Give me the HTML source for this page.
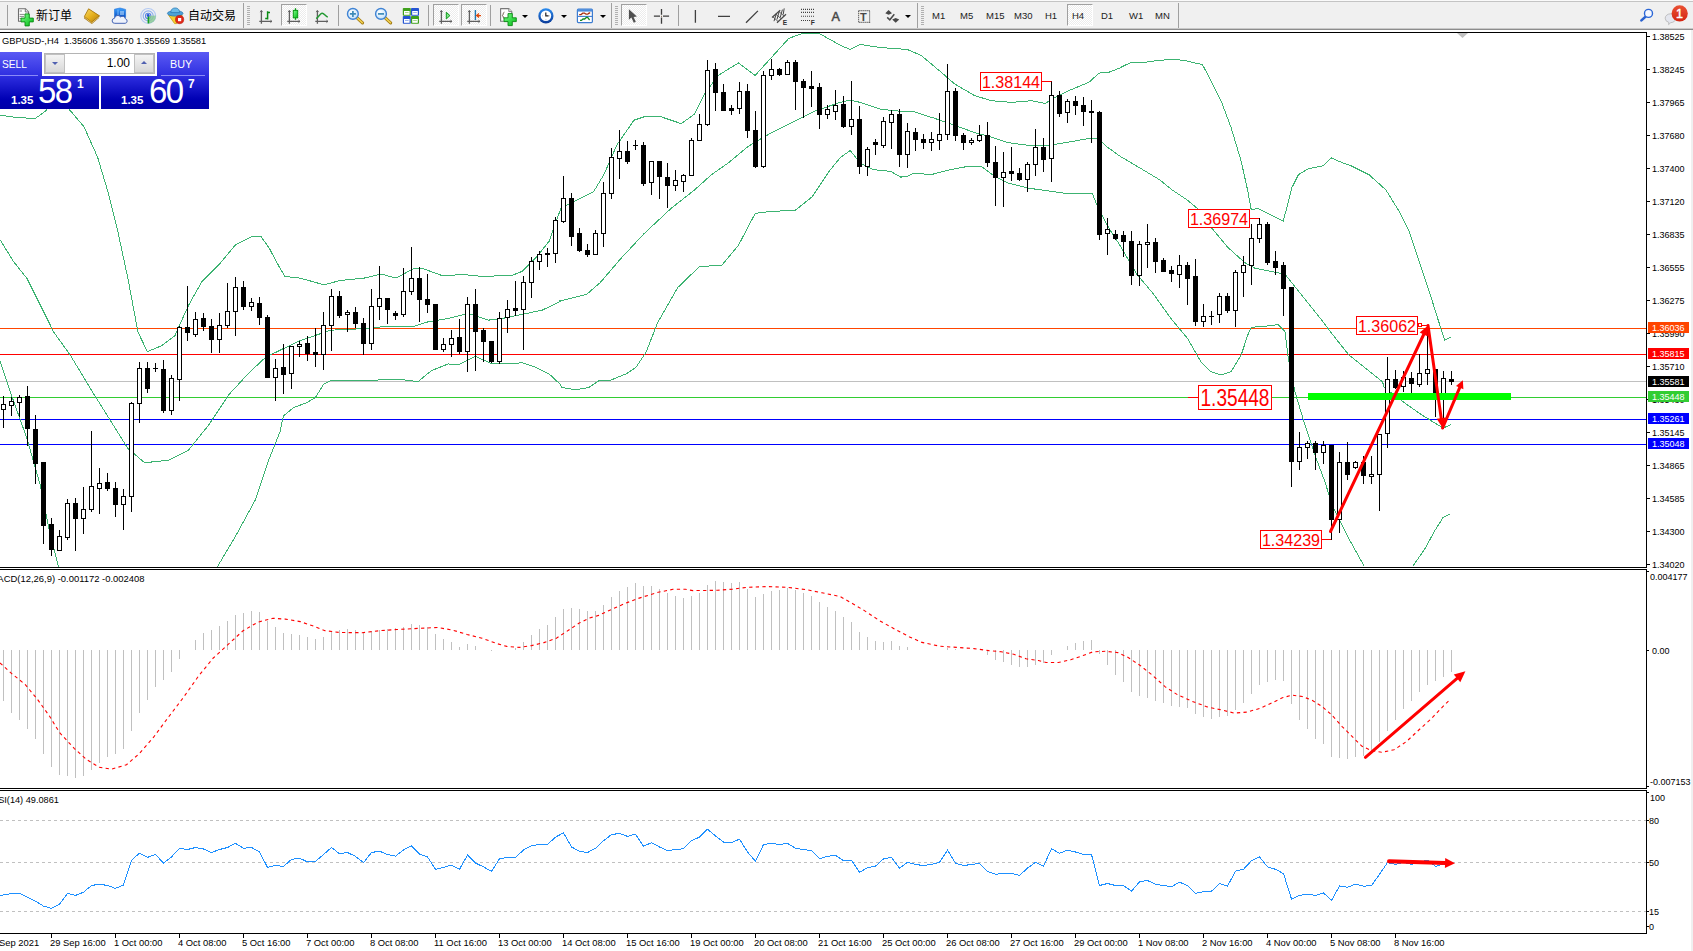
<!DOCTYPE html>
<html><head><meta charset="utf-8"><title>GBPUSD-,H4</title>
<style>
html,body{margin:0;padding:0;background:#fff;}
body{width:1693px;height:951px;overflow:hidden;position:relative;font-family:"Liberation Sans","Noto Sans CJK SC",sans-serif;}
#chart{position:absolute;left:0;top:0;}
#chart text{font-family:"Liberation Sans","Noto Sans CJK SC",sans-serif;white-space:pre;}
#tb{position:absolute;left:0;top:0;width:1693px;height:30px;background:#f0f0f0;}
#tb .l1{position:absolute;left:0;top:1px;width:100%;height:1px;background:#c4c4c4;}
#tb .l0{position:absolute;left:0;top:0;width:100%;height:1px;background:#fafafa;}
#tb .b1{position:absolute;left:0;top:28px;width:100%;height:1px;background:#c8c8c8;}
#tb .b2{position:absolute;left:0;top:29px;width:100%;height:1px;background:#8c8c8c;}
#rb{position:absolute;left:1691px;top:30px;width:2px;height:921px;background:#f0f0f0;}
.sep{position:absolute;top:5px;width:1px;height:21px;background:#a0a0a0;}
.sepL{top:3px;height:25px;}
.grip{position:absolute;top:6px;width:3px;height:19px;background:repeating-linear-gradient(#b0b0b0 0 1px,#f0f0f0 1px 2px);}
.sel{position:absolute;top:4px;height:22px;background:#f8f8f8;border:1px solid #fff;border-top-color:#a0a0a0;border-left-color:#a0a0a0;box-sizing:border-box;background-image:repeating-conic-gradient(#fff 0 25%,#ececec 0 50%);background-size:2px 2px;}
.tt{position:absolute;top:7.5px;font-size:12px;line-height:16px;color:#000;white-space:nowrap;}
.tf{position:absolute;top:10.4px;font-size:9.5px;line-height:12px;color:#222;white-space:nowrap;}
.dd{position:absolute;top:15px;width:0;height:0;border-left:3px solid transparent;border-right:3px solid transparent;border-top:3px solid #000;}
#panel{position:absolute;left:0;top:52px;width:209px;height:57px;color:#fff;}
#panel div{position:absolute;box-sizing:border-box;}
.bg1{background:linear-gradient(#5a5af4,#2e2ee0);}
.bg2{background:linear-gradient(#2e2ee0,#0000b4 70%,#0000a8);}
</style></head><body>
<svg id="chart" width="1693" height="951" viewBox="0 0 1693 951">
<defs><clipPath id="cm"><rect x="0" y="33" width="1646" height="534"/></clipPath></defs>
<rect x="0" y="328" width="1646" height="1" fill="#ff4500"/>
<rect x="0" y="354" width="1646" height="1" fill="#ff0000"/>
<rect x="0" y="381" width="1646" height="1" fill="#c0c0c0"/>
<rect x="0" y="397" width="1646" height="1" fill="#32cd32"/>
<rect x="0" y="419" width="1646" height="1" fill="#0000ff"/>
<rect x="0" y="444" width="1646" height="1" fill="#0000ff"/>
<g fill="none" stroke="#3cb371" stroke-width="1" clip-path="url(#cm)" shape-rendering="crispEdges">
<polyline points="0,115.1 16.8,117.5 35.3,118.5 45.4,111.1 50.5,105 63.9,103.4 70.7,111.1 84.1,126.9 97.6,157.2 107.7,190.9 117.8,231.3 127.9,278.4 138,332.2 147.4,351.7 161.5,345.7 175,335.6 188.5,305.3 201.9,281.7 218.8,264.9 235.6,244.7 252.4,236.3 260.8,236.3 269.2,248.1 280,268.3 285,276.4 300.2,278.1 323.8,284.8 340.6,280.4 364.1,278.1 381,274 396.1,278.1 414.6,268 421.3,268 441.5,275.4 465.1,274.7 481.9,276.4 512.2,275.4 522.3,271.3 535.8,257.9 549.2,241.1 560,210.8 560,208.4 576.8,200 593.7,191.5 603.8,174.7 617.2,144.4 634,120.2 644.1,116.8 661,116.8 681.2,123.6 694.6,114.1 704.7,93.9 718.2,75.4 738.4,63 755.2,75.4 772,56.9 788.8,38.4 802.3,33.4 819.1,33.4 840,45.1 850.1,49.5 860.2,44.5 880.4,47.5 907.3,49.5 920.8,55.2 941,72.1 954.4,83.8 974.6,95.6 991.4,100.7 1011.6,102.4 1031.8,100.7 1045.3,103.4 1055.4,97.3 1068.8,90.6 1089,82.2 1099.1,73.1 1109.2,72.1 1120,68 1120,67.7 1131.8,62 1140.2,63 1153.7,61 1170.5,59.3 1183.9,60.3 1202.5,64.7 1210.9,80.5 1221,100.7 1231.1,127.6 1241.2,161.3 1247.9,191.5 1251.3,210 1258,208.4 1268.1,213.4 1283.2,221.2 1286.6,208.4 1291.6,188.2 1298.4,174.7 1308.5,168.7 1323.6,165.6 1331.3,157.9 1338.8,161.3 1352.2,166.3 1369,174.7 1385.9,189.9 1399.3,211.7 1409.4,231.9 1419.5,262.2 1429.6,292.5 1438,319.4 1444.8,340.3 1451.5,336.9"/>
<polyline points="0,239.7 13.5,261.5 26.9,278.4 40.4,305.3 53.8,332.2 70.7,355.8 90.9,389.4 111.1,421.6 127.9,448.6 144.7,462.7 168.3,460.3 188.5,450.2 208.7,425 228.8,394.7 249,372.8 265.9,357 280,350.3 296.8,342 313.7,336 330.5,330.2 364.1,328.6 381,326.9 414.6,326.2 428.1,321.8 448.3,318.5 468.5,313.4 488.7,320.1 502.1,318.5 522.3,314.4 542.5,310 560,301.6 560,300.9 586.9,294.2 600.4,282.4 620.6,258.8 644.1,233.6 671.1,208.4 694.6,189.9 711.4,174.7 728.3,162.9 748.5,146.1 768.7,134.3 795.6,120.9 815.8,110.8 840,102.4 850.1,100 860.2,102.4 880.4,109.1 893.8,110.8 914,111.8 934.2,118.2 954.4,125.2 974.6,132.6 991.4,137 1008.3,142.7 1028.5,145.4 1048.7,145.4 1068.8,142.1 1089,138.4 1099.1,138.4 1105.9,146.1 1120,156.2 1140,168 1160,180 1172.2,190 1187.3,200.1 1197.4,208.5 1210.9,227 1227.7,247.2 1244.5,262.4 1254.6,268.1 1268.1,270.8 1284.9,274.1 1298.4,291 1318.6,316.2 1335.4,338.1 1348.8,354.9 1365.7,368.4 1382.5,381.8 1384.3,387.7 1404.5,402.8 1421.3,414.6 1434.8,423 1443.2,428.1 1450.6,424.7"/>
<polyline points="0,361.1 10.1,391.3 26.9,438.5 40.4,485.6 50.5,536.1 58.9,568"/>
<polyline points="215.4,570.1 235.6,536.1 255.8,499 269.2,458.7 280,431.7 283.4,416.1 293.5,407.6 306.9,402.6 315.3,397.6 323.8,384.1 330.5,380.7 364.1,380.7 397.8,379 418,381.7 431.4,370.6 448.3,363.9 458.4,364.9 475.2,356.2 492,363.9 522.3,362.9 535.8,367.3 549.2,374 560,384.1 561.9,387.5 575.4,389.8 588.8,387.5 598.9,380.7 610.7,380.1 625.9,374 636,367.3 646.1,352.1 657.6,322.8 677.8,287.5 699.7,266.3 721.5,265.6 738.4,245.4 755.2,213.4 768.7,211.7 795.6,210 812.4,196.6 829.2,171.3 840,157.9 850.1,150.5 860.2,162.9 873.7,169.7 890.5,171.3 900.6,177.1 907.3,176.4 914,173 930.9,174.7 947.7,170.3 964.5,167 981.3,166.3 994.8,176.4 1008.3,183.1 1028.5,188.2 1048.7,190.9 1068.8,193.9 1092.4,193.9 1099.1,210 1109.2,228.6 1120,245.4 1120,245.5 1136.8,274.1 1153.7,294.3 1170.5,317.9 1187.3,338.1 1200.8,361.6 1210.9,371.7 1221,375.1 1231.1,371.7 1241.2,354.9 1247.9,334.7 1251.3,327.3 1264.7,326.3 1278.2,324.6 1284.9,331.3 1288.3,358.3 1295,391.9 1305.1,425.6 1315.2,455.9 1325.3,482.8 1330.3,499.6 1333.8,508.8 1347.3,535.8 1364.1,566.1"/>
<polyline points="1412.9,566.1 1424.7,549.2 1434.8,530.7 1443.2,517.3 1450.6,513.9"/>
</g>
<g clip-path="url(#cm)" shape-rendering="crispEdges">
<rect x="3" y="396" width="1" height="32" fill="#000"/>
<rect x="1" y="404" width="5" height="6" fill="#000"/>
<rect x="2" y="405" width="3" height="4" fill="#fff"/>
<rect x="11" y="397" width="1" height="19" fill="#000"/>
<rect x="9" y="401" width="5" height="5" fill="#000"/>
<rect x="10" y="402" width="3" height="3" fill="#fff"/>
<rect x="19" y="395" width="1" height="22" fill="#000"/>
<rect x="17" y="397" width="5" height="6" fill="#000"/>
<rect x="18" y="398" width="3" height="4" fill="#fff"/>
<rect x="27" y="386" width="1" height="60" fill="#000"/>
<rect x="25" y="396" width="5" height="33" fill="#000"/>
<rect x="35" y="415" width="1" height="69" fill="#000"/>
<rect x="33" y="429" width="5" height="35" fill="#000"/>
<rect x="43" y="462" width="1" height="82" fill="#000"/>
<rect x="41" y="462" width="5" height="64" fill="#000"/>
<rect x="51" y="518" width="1" height="38" fill="#000"/>
<rect x="49" y="524" width="5" height="26" fill="#000"/>
<rect x="59" y="530" width="1" height="21" fill="#000"/>
<rect x="57" y="536" width="5" height="15" fill="#000"/>
<rect x="58" y="537" width="3" height="13" fill="#fff"/>
<rect x="67" y="499" width="1" height="41" fill="#000"/>
<rect x="65" y="503" width="5" height="35" fill="#000"/>
<rect x="66" y="504" width="3" height="33" fill="#fff"/>
<rect x="75" y="498" width="1" height="53" fill="#000"/>
<rect x="73" y="503" width="5" height="16" fill="#000"/>
<rect x="83" y="487" width="1" height="47" fill="#000"/>
<rect x="81" y="509" width="5" height="10" fill="#000"/>
<rect x="82" y="510" width="3" height="8" fill="#fff"/>
<rect x="91" y="431" width="1" height="81" fill="#000"/>
<rect x="89" y="486" width="5" height="24" fill="#000"/>
<rect x="90" y="487" width="3" height="22" fill="#fff"/>
<rect x="99" y="468" width="1" height="46" fill="#000"/>
<rect x="97" y="483" width="5" height="6" fill="#000"/>
<rect x="98" y="484" width="3" height="4" fill="#fff"/>
<rect x="107" y="473" width="1" height="18" fill="#000"/>
<rect x="105" y="482" width="5" height="7" fill="#000"/>
<rect x="115" y="482" width="1" height="35" fill="#000"/>
<rect x="113" y="488" width="5" height="17" fill="#000"/>
<rect x="123" y="489" width="1" height="41" fill="#000"/>
<rect x="121" y="496" width="5" height="9" fill="#000"/>
<rect x="122" y="497" width="3" height="7" fill="#fff"/>
<rect x="131" y="402" width="1" height="110" fill="#000"/>
<rect x="129" y="403" width="5" height="94" fill="#000"/>
<rect x="130" y="404" width="3" height="92" fill="#fff"/>
<rect x="139" y="362" width="1" height="61" fill="#000"/>
<rect x="137" y="368" width="5" height="36" fill="#000"/>
<rect x="138" y="369" width="3" height="34" fill="#fff"/>
<rect x="147" y="362" width="1" height="31" fill="#000"/>
<rect x="145" y="368" width="5" height="21" fill="#000"/>
<rect x="155" y="363" width="1" height="9" fill="#000"/>
<rect x="153" y="368" width="5" height="1" fill="#000"/>
<rect x="163" y="360" width="1" height="53" fill="#000"/>
<rect x="161" y="369" width="5" height="42" fill="#000"/>
<rect x="171" y="375" width="1" height="40" fill="#000"/>
<rect x="169" y="378" width="5" height="33" fill="#000"/>
<rect x="170" y="379" width="3" height="31" fill="#fff"/>
<rect x="179" y="326" width="1" height="75" fill="#000"/>
<rect x="177" y="327" width="5" height="53" fill="#000"/>
<rect x="178" y="328" width="3" height="51" fill="#fff"/>
<rect x="187" y="286" width="1" height="55" fill="#000"/>
<rect x="185" y="327" width="5" height="6" fill="#000"/>
<rect x="195" y="312" width="1" height="25" fill="#000"/>
<rect x="193" y="319" width="5" height="16" fill="#000"/>
<rect x="194" y="320" width="3" height="14" fill="#fff"/>
<rect x="203" y="313" width="1" height="18" fill="#000"/>
<rect x="201" y="318" width="5" height="9" fill="#000"/>
<rect x="211" y="319" width="1" height="34" fill="#000"/>
<rect x="209" y="326" width="5" height="14" fill="#000"/>
<rect x="219" y="313" width="1" height="40" fill="#000"/>
<rect x="217" y="325" width="5" height="15" fill="#000"/>
<rect x="218" y="326" width="3" height="13" fill="#fff"/>
<rect x="227" y="283" width="1" height="45" fill="#000"/>
<rect x="225" y="311" width="5" height="15" fill="#000"/>
<rect x="226" y="312" width="3" height="13" fill="#fff"/>
<rect x="235" y="277" width="1" height="59" fill="#000"/>
<rect x="233" y="287" width="5" height="25" fill="#000"/>
<rect x="234" y="288" width="3" height="23" fill="#fff"/>
<rect x="243" y="281" width="1" height="29" fill="#000"/>
<rect x="241" y="287" width="5" height="20" fill="#000"/>
<rect x="251" y="298" width="1" height="13" fill="#000"/>
<rect x="249" y="302" width="5" height="5" fill="#000"/>
<rect x="250" y="303" width="3" height="3" fill="#fff"/>
<rect x="259" y="297" width="1" height="28" fill="#000"/>
<rect x="257" y="303" width="5" height="15" fill="#000"/>
<rect x="267" y="315" width="1" height="63" fill="#000"/>
<rect x="265" y="317" width="5" height="61" fill="#000"/>
<rect x="275" y="359" width="1" height="42" fill="#000"/>
<rect x="273" y="368" width="5" height="10" fill="#000"/>
<rect x="274" y="369" width="3" height="8" fill="#fff"/>
<rect x="283" y="344" width="1" height="50" fill="#000"/>
<rect x="281" y="367" width="5" height="8" fill="#000"/>
<rect x="291" y="346" width="1" height="43" fill="#000"/>
<rect x="289" y="346" width="5" height="28" fill="#000"/>
<rect x="290" y="347" width="3" height="26" fill="#fff"/>
<rect x="299" y="341" width="1" height="16" fill="#000"/>
<rect x="297" y="344" width="5" height="3" fill="#000"/>
<rect x="298" y="345" width="3" height="1" fill="#fff"/>
<rect x="307" y="336" width="1" height="25" fill="#000"/>
<rect x="305" y="343" width="5" height="11" fill="#000"/>
<rect x="315" y="328" width="1" height="39" fill="#000"/>
<rect x="313" y="352" width="5" height="3" fill="#000"/>
<rect x="323" y="312" width="1" height="58" fill="#000"/>
<rect x="321" y="325" width="5" height="30" fill="#000"/>
<rect x="322" y="326" width="3" height="28" fill="#fff"/>
<rect x="331" y="289" width="1" height="62" fill="#000"/>
<rect x="329" y="296" width="5" height="30" fill="#000"/>
<rect x="330" y="297" width="3" height="28" fill="#fff"/>
<rect x="339" y="291" width="1" height="27" fill="#000"/>
<rect x="337" y="296" width="5" height="20" fill="#000"/>
<rect x="347" y="310" width="1" height="22" fill="#000"/>
<rect x="345" y="312" width="5" height="3" fill="#000"/>
<rect x="346" y="313" width="3" height="1" fill="#fff"/>
<rect x="355" y="307" width="1" height="21" fill="#000"/>
<rect x="353" y="312" width="5" height="12" fill="#000"/>
<rect x="363" y="318" width="1" height="37" fill="#000"/>
<rect x="361" y="323" width="5" height="21" fill="#000"/>
<rect x="371" y="289" width="1" height="61" fill="#000"/>
<rect x="369" y="306" width="5" height="38" fill="#000"/>
<rect x="370" y="307" width="3" height="36" fill="#fff"/>
<rect x="379" y="266" width="1" height="54" fill="#000"/>
<rect x="377" y="298" width="5" height="9" fill="#000"/>
<rect x="378" y="299" width="3" height="7" fill="#fff"/>
<rect x="387" y="298" width="1" height="26" fill="#000"/>
<rect x="385" y="298" width="5" height="12" fill="#000"/>
<rect x="395" y="311" width="1" height="9" fill="#000"/>
<rect x="393" y="313" width="5" height="3" fill="#000"/>
<rect x="403" y="268" width="1" height="49" fill="#000"/>
<rect x="401" y="291" width="5" height="24" fill="#000"/>
<rect x="402" y="292" width="3" height="22" fill="#fff"/>
<rect x="411" y="247" width="1" height="48" fill="#000"/>
<rect x="409" y="278" width="5" height="14" fill="#000"/>
<rect x="410" y="279" width="3" height="12" fill="#fff"/>
<rect x="419" y="267" width="1" height="55" fill="#000"/>
<rect x="417" y="278" width="5" height="22" fill="#000"/>
<rect x="427" y="274" width="1" height="39" fill="#000"/>
<rect x="425" y="299" width="5" height="6" fill="#000"/>
<rect x="435" y="304" width="1" height="46" fill="#000"/>
<rect x="433" y="304" width="5" height="46" fill="#000"/>
<rect x="443" y="338" width="1" height="14" fill="#000"/>
<rect x="441" y="344" width="5" height="6" fill="#000"/>
<rect x="442" y="345" width="3" height="4" fill="#fff"/>
<rect x="451" y="330" width="1" height="27" fill="#000"/>
<rect x="449" y="338" width="5" height="7" fill="#000"/>
<rect x="450" y="339" width="3" height="5" fill="#fff"/>
<rect x="459" y="319" width="1" height="35" fill="#000"/>
<rect x="457" y="337" width="5" height="15" fill="#000"/>
<rect x="467" y="297" width="1" height="75" fill="#000"/>
<rect x="465" y="304" width="5" height="48" fill="#000"/>
<rect x="466" y="305" width="3" height="46" fill="#fff"/>
<rect x="475" y="289" width="1" height="82" fill="#000"/>
<rect x="473" y="304" width="5" height="28" fill="#000"/>
<rect x="483" y="328" width="1" height="34" fill="#000"/>
<rect x="481" y="330" width="5" height="12" fill="#000"/>
<rect x="491" y="341" width="1" height="22" fill="#000"/>
<rect x="489" y="341" width="5" height="21" fill="#000"/>
<rect x="499" y="312" width="1" height="52" fill="#000"/>
<rect x="497" y="318" width="5" height="44" fill="#000"/>
<rect x="498" y="319" width="3" height="42" fill="#fff"/>
<rect x="507" y="300" width="1" height="33" fill="#000"/>
<rect x="505" y="309" width="5" height="9" fill="#000"/>
<rect x="506" y="310" width="3" height="7" fill="#fff"/>
<rect x="515" y="281" width="1" height="35" fill="#000"/>
<rect x="513" y="308" width="5" height="3" fill="#000"/>
<rect x="523" y="276" width="1" height="74" fill="#000"/>
<rect x="521" y="282" width="5" height="28" fill="#000"/>
<rect x="522" y="283" width="3" height="26" fill="#fff"/>
<rect x="531" y="257" width="1" height="41" fill="#000"/>
<rect x="529" y="261" width="5" height="22" fill="#000"/>
<rect x="530" y="262" width="3" height="20" fill="#fff"/>
<rect x="539" y="251" width="1" height="19" fill="#000"/>
<rect x="537" y="254" width="5" height="8" fill="#000"/>
<rect x="538" y="255" width="3" height="6" fill="#fff"/>
<rect x="547" y="248" width="1" height="19" fill="#000"/>
<rect x="545" y="253" width="5" height="2" fill="#000"/>
<rect x="555" y="217" width="1" height="46" fill="#000"/>
<rect x="553" y="220" width="5" height="34" fill="#000"/>
<rect x="554" y="221" width="3" height="32" fill="#fff"/>
<rect x="563" y="176" width="1" height="47" fill="#000"/>
<rect x="561" y="198" width="5" height="24" fill="#000"/>
<rect x="562" y="199" width="3" height="22" fill="#fff"/>
<rect x="571" y="193" width="1" height="53" fill="#000"/>
<rect x="569" y="198" width="5" height="39" fill="#000"/>
<rect x="579" y="228" width="1" height="24" fill="#000"/>
<rect x="577" y="233" width="5" height="18" fill="#000"/>
<rect x="587" y="244" width="1" height="13" fill="#000"/>
<rect x="585" y="250" width="5" height="5" fill="#000"/>
<rect x="595" y="230" width="1" height="25" fill="#000"/>
<rect x="593" y="233" width="5" height="22" fill="#000"/>
<rect x="594" y="234" width="3" height="20" fill="#fff"/>
<rect x="603" y="182" width="1" height="65" fill="#000"/>
<rect x="601" y="193" width="5" height="41" fill="#000"/>
<rect x="602" y="194" width="3" height="39" fill="#fff"/>
<rect x="611" y="148" width="1" height="51" fill="#000"/>
<rect x="609" y="157" width="5" height="37" fill="#000"/>
<rect x="610" y="158" width="3" height="35" fill="#fff"/>
<rect x="619" y="130" width="1" height="49" fill="#000"/>
<rect x="617" y="151" width="5" height="8" fill="#000"/>
<rect x="618" y="152" width="3" height="6" fill="#fff"/>
<rect x="627" y="141" width="1" height="23" fill="#000"/>
<rect x="625" y="151" width="5" height="11" fill="#000"/>
<rect x="635" y="140" width="1" height="10" fill="#000"/>
<rect x="633" y="145" width="5" height="1" fill="#000"/>
<rect x="643" y="142" width="1" height="44" fill="#000"/>
<rect x="641" y="145" width="5" height="39" fill="#000"/>
<rect x="651" y="161" width="1" height="34" fill="#000"/>
<rect x="649" y="161" width="5" height="22" fill="#000"/>
<rect x="650" y="162" width="3" height="20" fill="#fff"/>
<rect x="659" y="161" width="1" height="38" fill="#000"/>
<rect x="657" y="161" width="5" height="16" fill="#000"/>
<rect x="667" y="163" width="1" height="45" fill="#000"/>
<rect x="665" y="177" width="5" height="9" fill="#000"/>
<rect x="675" y="170" width="1" height="21" fill="#000"/>
<rect x="673" y="180" width="5" height="6" fill="#000"/>
<rect x="674" y="181" width="3" height="4" fill="#fff"/>
<rect x="683" y="174" width="1" height="18" fill="#000"/>
<rect x="681" y="175" width="5" height="7" fill="#000"/>
<rect x="682" y="176" width="3" height="5" fill="#fff"/>
<rect x="691" y="138" width="1" height="38" fill="#000"/>
<rect x="689" y="140" width="5" height="36" fill="#000"/>
<rect x="690" y="141" width="3" height="34" fill="#fff"/>
<rect x="699" y="114" width="1" height="27" fill="#000"/>
<rect x="697" y="124" width="5" height="17" fill="#000"/>
<rect x="698" y="125" width="3" height="15" fill="#fff"/>
<rect x="707" y="60" width="1" height="66" fill="#000"/>
<rect x="705" y="70" width="5" height="55" fill="#000"/>
<rect x="706" y="71" width="3" height="53" fill="#fff"/>
<rect x="715" y="63" width="1" height="48" fill="#000"/>
<rect x="713" y="69" width="5" height="24" fill="#000"/>
<rect x="723" y="84" width="1" height="27" fill="#000"/>
<rect x="721" y="92" width="5" height="19" fill="#000"/>
<rect x="731" y="105" width="1" height="10" fill="#000"/>
<rect x="729" y="108" width="5" height="3" fill="#000"/>
<rect x="739" y="82" width="1" height="32" fill="#000"/>
<rect x="737" y="91" width="5" height="18" fill="#000"/>
<rect x="738" y="92" width="3" height="16" fill="#fff"/>
<rect x="747" y="84" width="1" height="54" fill="#000"/>
<rect x="745" y="91" width="5" height="40" fill="#000"/>
<rect x="755" y="111" width="1" height="57" fill="#000"/>
<rect x="753" y="130" width="5" height="37" fill="#000"/>
<rect x="763" y="71" width="1" height="97" fill="#000"/>
<rect x="761" y="75" width="5" height="92" fill="#000"/>
<rect x="762" y="76" width="3" height="90" fill="#fff"/>
<rect x="771" y="59" width="1" height="21" fill="#000"/>
<rect x="769" y="69" width="5" height="7" fill="#000"/>
<rect x="770" y="70" width="3" height="5" fill="#fff"/>
<rect x="779" y="68" width="1" height="8" fill="#000"/>
<rect x="777" y="69" width="5" height="6" fill="#000"/>
<rect x="787" y="60" width="1" height="15" fill="#000"/>
<rect x="785" y="62" width="5" height="13" fill="#000"/>
<rect x="786" y="63" width="3" height="11" fill="#fff"/>
<rect x="795" y="60" width="1" height="50" fill="#000"/>
<rect x="793" y="62" width="5" height="20" fill="#000"/>
<rect x="803" y="79" width="1" height="39" fill="#000"/>
<rect x="801" y="81" width="5" height="7" fill="#000"/>
<rect x="811" y="71" width="1" height="36" fill="#000"/>
<rect x="809" y="86" width="5" height="3" fill="#000"/>
<rect x="819" y="83" width="1" height="46" fill="#000"/>
<rect x="817" y="87" width="5" height="28" fill="#000"/>
<rect x="827" y="105" width="1" height="14" fill="#000"/>
<rect x="825" y="109" width="5" height="6" fill="#000"/>
<rect x="826" y="110" width="3" height="4" fill="#fff"/>
<rect x="835" y="90" width="1" height="30" fill="#000"/>
<rect x="833" y="105" width="5" height="7" fill="#000"/>
<rect x="834" y="106" width="3" height="5" fill="#fff"/>
<rect x="843" y="96" width="1" height="32" fill="#000"/>
<rect x="841" y="104" width="5" height="23" fill="#000"/>
<rect x="851" y="81" width="1" height="54" fill="#000"/>
<rect x="849" y="119" width="5" height="8" fill="#000"/>
<rect x="850" y="120" width="3" height="6" fill="#fff"/>
<rect x="859" y="106" width="1" height="68" fill="#000"/>
<rect x="857" y="119" width="5" height="48" fill="#000"/>
<rect x="867" y="147" width="1" height="29" fill="#000"/>
<rect x="865" y="149" width="5" height="18" fill="#000"/>
<rect x="866" y="150" width="3" height="16" fill="#fff"/>
<rect x="875" y="139" width="1" height="16" fill="#000"/>
<rect x="873" y="142" width="5" height="3" fill="#000"/>
<rect x="883" y="117" width="1" height="31" fill="#000"/>
<rect x="881" y="121" width="5" height="25" fill="#000"/>
<rect x="882" y="122" width="3" height="23" fill="#fff"/>
<rect x="891" y="110" width="1" height="39" fill="#000"/>
<rect x="889" y="114" width="5" height="9" fill="#000"/>
<rect x="890" y="115" width="3" height="7" fill="#fff"/>
<rect x="899" y="109" width="1" height="58" fill="#000"/>
<rect x="897" y="114" width="5" height="41" fill="#000"/>
<rect x="907" y="123" width="1" height="45" fill="#000"/>
<rect x="905" y="131" width="5" height="24" fill="#000"/>
<rect x="906" y="132" width="3" height="22" fill="#fff"/>
<rect x="915" y="128" width="1" height="23" fill="#000"/>
<rect x="913" y="132" width="5" height="8" fill="#000"/>
<rect x="923" y="134" width="1" height="15" fill="#000"/>
<rect x="921" y="139" width="5" height="4" fill="#000"/>
<rect x="931" y="132" width="1" height="19" fill="#000"/>
<rect x="929" y="139" width="5" height="4" fill="#000"/>
<rect x="930" y="140" width="3" height="2" fill="#fff"/>
<rect x="939" y="113" width="1" height="37" fill="#000"/>
<rect x="937" y="134" width="5" height="7" fill="#000"/>
<rect x="938" y="135" width="3" height="5" fill="#fff"/>
<rect x="947" y="64" width="1" height="76" fill="#000"/>
<rect x="945" y="91" width="5" height="44" fill="#000"/>
<rect x="946" y="92" width="3" height="42" fill="#fff"/>
<rect x="955" y="88" width="1" height="53" fill="#000"/>
<rect x="953" y="91" width="5" height="45" fill="#000"/>
<rect x="963" y="133" width="1" height="17" fill="#000"/>
<rect x="961" y="135" width="5" height="8" fill="#000"/>
<rect x="971" y="138" width="1" height="7" fill="#000"/>
<rect x="969" y="140" width="5" height="3" fill="#000"/>
<rect x="970" y="141" width="3" height="1" fill="#fff"/>
<rect x="979" y="125" width="1" height="17" fill="#000"/>
<rect x="977" y="135" width="5" height="6" fill="#000"/>
<rect x="978" y="136" width="3" height="4" fill="#fff"/>
<rect x="987" y="122" width="1" height="45" fill="#000"/>
<rect x="985" y="135" width="5" height="28" fill="#000"/>
<rect x="995" y="146" width="1" height="60" fill="#000"/>
<rect x="993" y="162" width="5" height="16" fill="#000"/>
<rect x="1003" y="152" width="1" height="55" fill="#000"/>
<rect x="1001" y="172" width="5" height="6" fill="#000"/>
<rect x="1002" y="173" width="3" height="4" fill="#fff"/>
<rect x="1011" y="147" width="1" height="34" fill="#000"/>
<rect x="1009" y="171" width="5" height="3" fill="#000"/>
<rect x="1019" y="168" width="1" height="13" fill="#000"/>
<rect x="1017" y="173" width="5" height="7" fill="#000"/>
<rect x="1027" y="162" width="1" height="30" fill="#000"/>
<rect x="1025" y="164" width="5" height="16" fill="#000"/>
<rect x="1026" y="165" width="3" height="14" fill="#fff"/>
<rect x="1035" y="129" width="1" height="47" fill="#000"/>
<rect x="1033" y="147" width="5" height="18" fill="#000"/>
<rect x="1034" y="148" width="3" height="16" fill="#fff"/>
<rect x="1043" y="138" width="1" height="34" fill="#000"/>
<rect x="1041" y="147" width="5" height="13" fill="#000"/>
<rect x="1051" y="81" width="1" height="101" fill="#000"/>
<rect x="1049" y="95" width="5" height="64" fill="#000"/>
<rect x="1050" y="96" width="3" height="62" fill="#fff"/>
<rect x="1059" y="91" width="1" height="26" fill="#000"/>
<rect x="1057" y="95" width="5" height="19" fill="#000"/>
<rect x="1067" y="99" width="1" height="24" fill="#000"/>
<rect x="1065" y="101" width="5" height="12" fill="#000"/>
<rect x="1066" y="102" width="3" height="10" fill="#fff"/>
<rect x="1075" y="96" width="1" height="19" fill="#000"/>
<rect x="1073" y="101" width="5" height="5" fill="#000"/>
<rect x="1083" y="97" width="1" height="29" fill="#000"/>
<rect x="1081" y="105" width="5" height="7" fill="#000"/>
<rect x="1091" y="100" width="1" height="43" fill="#000"/>
<rect x="1089" y="111" width="5" height="2" fill="#000"/>
<rect x="1099" y="111" width="1" height="129" fill="#000"/>
<rect x="1097" y="112" width="5" height="123" fill="#000"/>
<rect x="1107" y="218" width="1" height="37" fill="#000"/>
<rect x="1105" y="229" width="5" height="5" fill="#000"/>
<rect x="1106" y="230" width="3" height="3" fill="#fff"/>
<rect x="1115" y="230" width="1" height="10" fill="#000"/>
<rect x="1113" y="234" width="5" height="5" fill="#000"/>
<rect x="1123" y="231" width="1" height="26" fill="#000"/>
<rect x="1121" y="235" width="5" height="7" fill="#000"/>
<rect x="1131" y="231" width="1" height="54" fill="#000"/>
<rect x="1129" y="241" width="5" height="35" fill="#000"/>
<rect x="1139" y="241" width="1" height="45" fill="#000"/>
<rect x="1137" y="244" width="5" height="32" fill="#000"/>
<rect x="1138" y="245" width="3" height="30" fill="#fff"/>
<rect x="1147" y="224" width="1" height="44" fill="#000"/>
<rect x="1145" y="242" width="5" height="3" fill="#000"/>
<rect x="1146" y="243" width="3" height="1" fill="#fff"/>
<rect x="1155" y="238" width="1" height="35" fill="#000"/>
<rect x="1153" y="242" width="5" height="20" fill="#000"/>
<rect x="1163" y="258" width="1" height="14" fill="#000"/>
<rect x="1161" y="260" width="5" height="12" fill="#000"/>
<rect x="1171" y="266" width="1" height="16" fill="#000"/>
<rect x="1169" y="270" width="5" height="4" fill="#000"/>
<rect x="1179" y="255" width="1" height="33" fill="#000"/>
<rect x="1177" y="265" width="5" height="10" fill="#000"/>
<rect x="1178" y="266" width="3" height="8" fill="#fff"/>
<rect x="1187" y="262" width="1" height="43" fill="#000"/>
<rect x="1185" y="265" width="5" height="14" fill="#000"/>
<rect x="1195" y="259" width="1" height="67" fill="#000"/>
<rect x="1193" y="276" width="5" height="46" fill="#000"/>
<rect x="1203" y="304" width="1" height="23" fill="#000"/>
<rect x="1201" y="316" width="5" height="6" fill="#000"/>
<rect x="1202" y="317" width="3" height="4" fill="#fff"/>
<rect x="1211" y="311" width="1" height="14" fill="#000"/>
<rect x="1209" y="316" width="5" height="1" fill="#000"/>
<rect x="1219" y="293" width="1" height="30" fill="#000"/>
<rect x="1217" y="296" width="5" height="19" fill="#000"/>
<rect x="1218" y="297" width="3" height="17" fill="#fff"/>
<rect x="1227" y="293" width="1" height="20" fill="#000"/>
<rect x="1225" y="296" width="5" height="15" fill="#000"/>
<rect x="1235" y="270" width="1" height="57" fill="#000"/>
<rect x="1233" y="272" width="5" height="39" fill="#000"/>
<rect x="1234" y="273" width="3" height="37" fill="#fff"/>
<rect x="1243" y="256" width="1" height="41" fill="#000"/>
<rect x="1241" y="265" width="5" height="8" fill="#000"/>
<rect x="1242" y="266" width="3" height="6" fill="#fff"/>
<rect x="1251" y="224" width="1" height="61" fill="#000"/>
<rect x="1249" y="238" width="5" height="28" fill="#000"/>
<rect x="1250" y="239" width="3" height="26" fill="#fff"/>
<rect x="1259" y="220" width="1" height="23" fill="#000"/>
<rect x="1257" y="224" width="5" height="15" fill="#000"/>
<rect x="1258" y="225" width="3" height="13" fill="#fff"/>
<rect x="1267" y="222" width="1" height="43" fill="#000"/>
<rect x="1265" y="224" width="5" height="39" fill="#000"/>
<rect x="1275" y="251" width="1" height="24" fill="#000"/>
<rect x="1273" y="261" width="5" height="7" fill="#000"/>
<rect x="1283" y="262" width="1" height="54" fill="#000"/>
<rect x="1281" y="265" width="5" height="24" fill="#000"/>
<rect x="1291" y="287" width="1" height="200" fill="#000"/>
<rect x="1289" y="287" width="5" height="175" fill="#000"/>
<rect x="1299" y="432" width="1" height="38" fill="#000"/>
<rect x="1297" y="447" width="5" height="15" fill="#000"/>
<rect x="1298" y="448" width="3" height="13" fill="#fff"/>
<rect x="1307" y="441" width="1" height="18" fill="#000"/>
<rect x="1305" y="443" width="5" height="5" fill="#000"/>
<rect x="1306" y="444" width="3" height="3" fill="#fff"/>
<rect x="1315" y="441" width="1" height="29" fill="#000"/>
<rect x="1313" y="443" width="5" height="10" fill="#000"/>
<rect x="1323" y="441" width="1" height="23" fill="#000"/>
<rect x="1321" y="445" width="5" height="8" fill="#000"/>
<rect x="1322" y="446" width="3" height="6" fill="#fff"/>
<rect x="1331" y="445" width="1" height="95" fill="#000"/>
<rect x="1329" y="445" width="5" height="75" fill="#000"/>
<rect x="1339" y="452" width="1" height="81" fill="#000"/>
<rect x="1337" y="462" width="5" height="58" fill="#000"/>
<rect x="1338" y="463" width="3" height="56" fill="#fff"/>
<rect x="1347" y="442" width="1" height="38" fill="#000"/>
<rect x="1345" y="462" width="5" height="13" fill="#000"/>
<rect x="1355" y="461" width="1" height="8" fill="#000"/>
<rect x="1353" y="462" width="5" height="6" fill="#000"/>
<rect x="1354" y="463" width="3" height="4" fill="#fff"/>
<rect x="1363" y="456" width="1" height="28" fill="#000"/>
<rect x="1361" y="462" width="5" height="14" fill="#000"/>
<rect x="1371" y="456" width="1" height="28" fill="#000"/>
<rect x="1369" y="474" width="5" height="3" fill="#000"/>
<rect x="1370" y="475" width="3" height="1" fill="#fff"/>
<rect x="1379" y="434" width="1" height="77" fill="#000"/>
<rect x="1377" y="434" width="5" height="41" fill="#000"/>
<rect x="1378" y="435" width="3" height="39" fill="#fff"/>
<rect x="1387" y="357" width="1" height="91" fill="#000"/>
<rect x="1385" y="379" width="5" height="55" fill="#000"/>
<rect x="1386" y="380" width="3" height="53" fill="#fff"/>
<rect x="1395" y="370" width="1" height="19" fill="#000"/>
<rect x="1393" y="379" width="5" height="9" fill="#000"/>
<rect x="1403" y="371" width="1" height="21" fill="#000"/>
<rect x="1401" y="377" width="5" height="10" fill="#000"/>
<rect x="1402" y="378" width="3" height="8" fill="#fff"/>
<rect x="1411" y="372" width="1" height="22" fill="#000"/>
<rect x="1409" y="378" width="5" height="6" fill="#000"/>
<rect x="1419" y="354" width="1" height="33" fill="#000"/>
<rect x="1417" y="373" width="5" height="12" fill="#000"/>
<rect x="1418" y="374" width="3" height="10" fill="#fff"/>
<rect x="1427" y="330" width="1" height="55" fill="#000"/>
<rect x="1425" y="369" width="5" height="5" fill="#000"/>
<rect x="1426" y="370" width="3" height="3" fill="#fff"/>
<rect x="1435" y="369" width="1" height="48" fill="#000"/>
<rect x="1433" y="369" width="5" height="24" fill="#000"/>
<rect x="1443" y="371" width="1" height="58" fill="#000"/>
<rect x="1441" y="378" width="5" height="16" fill="#000"/>
<rect x="1442" y="379" width="3" height="14" fill="#fff"/>
<rect x="1451" y="371" width="1" height="14" fill="#000"/>
<rect x="1449" y="379" width="5" height="3" fill="#000"/>
</g>
<rect x="1308" y="393" width="203" height="7" fill="#00ff00"/>
<rect x="980.5" y="72.5" width="61" height="18" fill="#fff" stroke="#ff0000" stroke-width="1"/>
<text x="1011.0" y="86.07843137254902" font-size="16.1" fill="#ff0000" text-anchor="middle" transform="scale(1,1.02)">1.38144</text>
<path d="M1042 81.5H1051.5" stroke="#f00" fill="none"/>
<rect x="1188.5" y="209.5" width="61" height="18" fill="#fff" stroke="#ff0000" stroke-width="1"/>
<text x="1219.0" y="220.3921568627451" font-size="16.1" fill="#ff0000" text-anchor="middle" transform="scale(1,1.02)">1.36974</text>
<path d="M1250 218.5H1259.5" stroke="#f00" fill="none"/>
<rect x="1259" y="218" width="1" height="6" fill="#000"/>
<rect x="1356.5" y="316.5" width="61" height="18" fill="#fff" stroke="#ff0000" stroke-width="1"/>
<text x="1387.0" y="325.29411764705884" font-size="16.1" fill="#ff0000" text-anchor="middle" transform="scale(1,1.02)">1.36062</text>
<rect x="1418.5" y="323.5" width="3" height="3" fill="#fff" stroke="#f00"/><path d="M1422 325.5H1428" stroke="#f00"/>
<rect x="1260.5" y="530.5" width="61" height="18" fill="#fff" stroke="#ff0000" stroke-width="1"/>
<text x="1291.0" y="535.1960784313725" font-size="16.1" fill="#ff0000" text-anchor="middle" transform="scale(1,1.02)">1.34239</text>
<path d="M1322 539.5H1331" stroke="#f00" fill="none"/>
<rect x="1198.5" y="385.5" width="73" height="24" fill="#fff" stroke="#ff0000" stroke-width="1"/>
<text x="1235.0" y="335.702479338843" font-size="19.1" fill="#ff0000" text-anchor="middle" transform="scale(1,1.21)">1.35448</text>
<rect x="1188" y="397" width="10" height="1" fill="#f00"/>
<line x1="1330.5" y1="531.5" x2="1423.7" y2="334.5" stroke="#ff0000" stroke-width="3" stroke-linecap="round"/>
<polygon points="1428,325.5 1427.8,336.5 1419.7,332.6" fill="#ff0000"/>
<line x1="1428" y1="325.5" x2="1441.2" y2="418.1" stroke="#ff0000" stroke-width="3" stroke-linecap="round"/>
<polygon points="1442.6,428 1436.7,418.7 1445.6,417.5" fill="#ff0000"/>
<line x1="1442.6" y1="428" x2="1459.7" y2="387.7" stroke="#ff0000" stroke-width="3" stroke-linecap="round"/>
<polygon points="1462.8,380.3 1463.4,389.2 1456,386.1" fill="#ff0000"/>
<polygon points="1457,33 1468,33 1462.5,38" fill="#c0c0c0"/>
<g shape-rendering="crispEdges" fill="#c0c0c0">
<rect x="3" y="650" width="1" height="51"/>
<rect x="11" y="650" width="1" height="63"/>
<rect x="19" y="650" width="1" height="70"/>
<rect x="27" y="650" width="1" height="79"/>
<rect x="35" y="650" width="1" height="89"/>
<rect x="43" y="650" width="1" height="104"/>
<rect x="51" y="650" width="1" height="117"/>
<rect x="59" y="650" width="1" height="125"/>
<rect x="67" y="650" width="1" height="126"/>
<rect x="75" y="650" width="1" height="128"/>
<rect x="83" y="650" width="1" height="126"/>
<rect x="91" y="650" width="1" height="120"/>
<rect x="99" y="650" width="1" height="113"/>
<rect x="107" y="650" width="1" height="107"/>
<rect x="115" y="650" width="1" height="104"/>
<rect x="123" y="650" width="1" height="99"/>
<rect x="131" y="650" width="1" height="81"/>
<rect x="139" y="650" width="1" height="63"/>
<rect x="147" y="650" width="1" height="50"/>
<rect x="155" y="650" width="1" height="37"/>
<rect x="163" y="650" width="1" height="30"/>
<rect x="171" y="650" width="1" height="22"/>
<rect x="179" y="650" width="1" height="9"/>
<rect x="195" y="640" width="1" height="10"/>
<rect x="203" y="633" width="1" height="17"/>
<rect x="211" y="630" width="1" height="20"/>
<rect x="219" y="626" width="1" height="24"/>
<rect x="227" y="621" width="1" height="29"/>
<rect x="235" y="615" width="1" height="35"/>
<rect x="243" y="613" width="1" height="37"/>
<rect x="251" y="611" width="1" height="39"/>
<rect x="259" y="612" width="1" height="38"/>
<rect x="267" y="621" width="1" height="29"/>
<rect x="275" y="627" width="1" height="23"/>
<rect x="283" y="633" width="1" height="17"/>
<rect x="291" y="634" width="1" height="16"/>
<rect x="299" y="635" width="1" height="15"/>
<rect x="307" y="637" width="1" height="13"/>
<rect x="315" y="639" width="1" height="11"/>
<rect x="323" y="637" width="1" height="13"/>
<rect x="331" y="632" width="1" height="18"/>
<rect x="339" y="630" width="1" height="20"/>
<rect x="347" y="629" width="1" height="21"/>
<rect x="355" y="630" width="1" height="20"/>
<rect x="363" y="632" width="1" height="18"/>
<rect x="371" y="631" width="1" height="19"/>
<rect x="379" y="630" width="1" height="20"/>
<rect x="387" y="629" width="1" height="21"/>
<rect x="395" y="628" width="1" height="22"/>
<rect x="403" y="627" width="1" height="23"/>
<rect x="411" y="624" width="1" height="26"/>
<rect x="419" y="625" width="1" height="25"/>
<rect x="427" y="627" width="1" height="23"/>
<rect x="435" y="634" width="1" height="16"/>
<rect x="443" y="639" width="1" height="11"/>
<rect x="451" y="642" width="1" height="8"/>
<rect x="459" y="647" width="1" height="3"/>
<rect x="467" y="644" width="1" height="6"/>
<rect x="475" y="646" width="1" height="4"/>
<rect x="491" y="650" width="1" height="1"/>
<rect x="515" y="648" width="1" height="2"/>
<rect x="523" y="642" width="1" height="8"/>
<rect x="531" y="635" width="1" height="15"/>
<rect x="539" y="629" width="1" height="21"/>
<rect x="547" y="625" width="1" height="25"/>
<rect x="555" y="617" width="1" height="33"/>
<rect x="563" y="609" width="1" height="41"/>
<rect x="571" y="608" width="1" height="42"/>
<rect x="579" y="609" width="1" height="41"/>
<rect x="587" y="611" width="1" height="39"/>
<rect x="595" y="611" width="1" height="39"/>
<rect x="603" y="605" width="1" height="45"/>
<rect x="611" y="597" width="1" height="53"/>
<rect x="619" y="591" width="1" height="59"/>
<rect x="627" y="587" width="1" height="63"/>
<rect x="635" y="583" width="1" height="67"/>
<rect x="643" y="586" width="1" height="64"/>
<rect x="651" y="586" width="1" height="64"/>
<rect x="659" y="589" width="1" height="61"/>
<rect x="667" y="593" width="1" height="57"/>
<rect x="675" y="596" width="1" height="54"/>
<rect x="683" y="598" width="1" height="52"/>
<rect x="691" y="596" width="1" height="54"/>
<rect x="699" y="593" width="1" height="57"/>
<rect x="707" y="585" width="1" height="65"/>
<rect x="715" y="581" width="1" height="69"/>
<rect x="723" y="582" width="1" height="68"/>
<rect x="731" y="583" width="1" height="67"/>
<rect x="739" y="582" width="1" height="68"/>
<rect x="747" y="589" width="1" height="61"/>
<rect x="755" y="597" width="1" height="53"/>
<rect x="763" y="594" width="1" height="56"/>
<rect x="771" y="591" width="1" height="59"/>
<rect x="779" y="590" width="1" height="60"/>
<rect x="787" y="588" width="1" height="62"/>
<rect x="795" y="590" width="1" height="60"/>
<rect x="803" y="593" width="1" height="57"/>
<rect x="811" y="596" width="1" height="54"/>
<rect x="819" y="602" width="1" height="48"/>
<rect x="827" y="607" width="1" height="43"/>
<rect x="835" y="611" width="1" height="39"/>
<rect x="843" y="617" width="1" height="33"/>
<rect x="851" y="622" width="1" height="28"/>
<rect x="859" y="632" width="1" height="18"/>
<rect x="867" y="637" width="1" height="13"/>
<rect x="875" y="641" width="1" height="9"/>
<rect x="883" y="642" width="1" height="8"/>
<rect x="891" y="641" width="1" height="9"/>
<rect x="899" y="646" width="1" height="4"/>
<rect x="907" y="647" width="1" height="3"/>
<rect x="947" y="648" width="1" height="2"/>
<rect x="955" y="649" width="1" height="1"/>
<rect x="987" y="650" width="1" height="5"/>
<rect x="995" y="650" width="1" height="10"/>
<rect x="1003" y="650" width="1" height="12"/>
<rect x="1011" y="650" width="1" height="15"/>
<rect x="1019" y="650" width="1" height="17"/>
<rect x="1027" y="650" width="1" height="17"/>
<rect x="1035" y="650" width="1" height="15"/>
<rect x="1043" y="650" width="1" height="13"/>
<rect x="1051" y="650" width="1" height="5"/>
<rect x="1067" y="646" width="1" height="4"/>
<rect x="1075" y="643" width="1" height="7"/>
<rect x="1083" y="641" width="1" height="9"/>
<rect x="1091" y="640" width="1" height="10"/>
<rect x="1099" y="650" width="1" height="4"/>
<rect x="1107" y="650" width="1" height="15"/>
<rect x="1115" y="650" width="1" height="25"/>
<rect x="1123" y="650" width="1" height="32"/>
<rect x="1131" y="650" width="1" height="42"/>
<rect x="1139" y="650" width="1" height="46"/>
<rect x="1147" y="650" width="1" height="48"/>
<rect x="1155" y="650" width="1" height="51"/>
<rect x="1163" y="650" width="1" height="53"/>
<rect x="1171" y="650" width="1" height="56"/>
<rect x="1179" y="650" width="1" height="57"/>
<rect x="1187" y="650" width="1" height="58"/>
<rect x="1195" y="650" width="1" height="64"/>
<rect x="1203" y="650" width="1" height="67"/>
<rect x="1211" y="650" width="1" height="69"/>
<rect x="1219" y="650" width="1" height="67"/>
<rect x="1227" y="650" width="1" height="66"/>
<rect x="1235" y="650" width="1" height="60"/>
<rect x="1243" y="650" width="1" height="53"/>
<rect x="1251" y="650" width="1" height="44"/>
<rect x="1259" y="650" width="1" height="35"/>
<rect x="1267" y="650" width="1" height="32"/>
<rect x="1275" y="650" width="1" height="30"/>
<rect x="1283" y="650" width="1" height="31"/>
<rect x="1291" y="650" width="1" height="54"/>
<rect x="1299" y="650" width="1" height="70"/>
<rect x="1307" y="650" width="1" height="79"/>
<rect x="1315" y="650" width="1" height="89"/>
<rect x="1323" y="650" width="1" height="94"/>
<rect x="1331" y="650" width="1" height="107"/>
<rect x="1339" y="650" width="1" height="108"/>
<rect x="1347" y="650" width="1" height="109"/>
<rect x="1355" y="650" width="1" height="107"/>
<rect x="1363" y="650" width="1" height="106"/>
<rect x="1371" y="650" width="1" height="101"/>
<rect x="1379" y="650" width="1" height="92"/>
<rect x="1387" y="650" width="1" height="81"/>
<rect x="1395" y="650" width="1" height="70"/>
<rect x="1403" y="650" width="1" height="59"/>
<rect x="1411" y="650" width="1" height="51"/>
<rect x="1419" y="650" width="1" height="42"/>
<rect x="1427" y="650" width="1" height="35"/>
<rect x="1435" y="650" width="1" height="31"/>
<rect x="1443" y="650" width="1" height="27"/>
<rect x="1451" y="650" width="1" height="22"/>
</g>
<polyline points="0,663 12.4,674.2 24.8,684.1 37.2,699 49.6,716.3 59.5,732.5 74.4,748.6 86.8,759.7 99.2,767.2 111.6,769.2 126.5,764.7 138.9,754 153.8,736.9 168.7,716.8 183.6,697.2 198.5,676.1 213.3,658 228.2,644.4 243.1,630.7 258,622.1 272.9,618.3 285.3,619.1 300.2,621.6 312.6,625.8 325,630.7 339.9,632.5 362.2,632.7 379.6,630.7 396.9,629.5 420,628.3 437.4,627.5 452.3,630 467.1,634.5 482,638.2 496.9,643.6 506.8,646.4 519.2,647.4 531.6,645.6 544,642.6 556.4,638.2 568.8,630 578.8,623.3 588.7,618.3 598.6,615.4 611,609.7 623.4,604.2 635.8,599.2 648.2,595.3 658.2,592.3 673,589.3 685.4,589.3 692.9,590.6 717.7,590.3 732.6,589.1 747.5,587.3 767.3,586.6 787.2,587.3 807,589.8 821.9,592.8 840,596.5 852.4,603.5 864.8,610.9 879.7,620.8 894.6,629 909.5,636.9 921.9,642.4 939.2,646.1 956.6,647.4 974,648.6 988.8,650.6 1001.3,651.8 1013.7,654.3 1026.1,658.8 1038.5,660.5 1045.9,662.5 1058.3,662.5 1070.7,659.8 1083.1,655.5 1093,651.8 1105.4,651.3 1117.8,652.6 1127.8,657.3 1140.2,665.5 1152.6,675.4 1165,686.6 1177.4,694.7 1192.3,701.4 1207.2,706.9 1222,710.1 1234.4,713.1 1246.8,712.1 1260,708.4 1272.4,702.7 1282.3,697.7 1292.3,695.2 1302.2,696.5 1312.1,700.2 1322,706.4 1331.9,715.1 1341.9,726.3 1351.8,736.2 1361.7,746.1 1371.6,750.6 1381.6,752.3 1394,749.8 1406.4,741.6 1418.8,730 1431.2,718.8 1441.1,708.4 1449.8,699.7" fill="none" stroke="#ff0000" stroke-width="1.1" stroke-dasharray="3.3 3.3"/>
<line x1="0" y1="820.5" x2="1646" y2="820.5" stroke="#c0c0c0" stroke-width="1" stroke-dasharray="3 3" shape-rendering="crispEdges"/>
<line x1="0" y1="862.5" x2="1646" y2="862.5" stroke="#c0c0c0" stroke-width="1" stroke-dasharray="3 3" shape-rendering="crispEdges"/>
<line x1="0" y1="911.5" x2="1646" y2="911.5" stroke="#c0c0c0" stroke-width="1" stroke-dasharray="3 3" shape-rendering="crispEdges"/>
<polyline points="0,895.4 3.5,894.9 11.5,893.7 19.5,893.4 27.5,897.1 35.5,901.1 43.5,906.1 51.5,908.3 59.5,904.1 67.5,893.4 75.5,895.4 83.5,892.2 91.5,885.5 99.5,884.2 107.5,885.5 115.5,888.4 123.5,885 131.5,860.2 139.5,853.2 147.5,857.4 155.5,854.5 163.5,863.1 171.5,856.9 179.5,848.3 187.5,849.5 195.5,847.5 203.5,849 211.5,852.5 219.5,849.5 227.5,847.5 235.5,843.3 243.5,848.3 251.5,847.5 259.5,852 267.5,867.4 275.5,865.4 283.5,866.4 291.5,859.4 299.5,858.2 307.5,861.9 315.5,861.4 323.5,854.5 331.5,847.5 339.5,853.7 347.5,852.5 355.5,856.4 363.5,862.6 371.5,852.5 379.5,851.2 387.5,854.5 395.5,856.2 403.5,850 411.5,845.8 419.5,854 427.5,856.9 435.5,869.3 443.5,867.4 451.5,865.1 459.5,869.3 467.5,855.2 475.5,863.1 483.5,866.9 491.5,871.3 499.5,858.9 507.5,857.4 515.5,857.4 523.5,850 531.5,845.8 539.5,844.5 547.5,844.5 555.5,837.1 563.5,832.9 571.5,847 579.5,851.2 587.5,852.5 595.5,848.3 603.5,840.8 611.5,834.6 619.5,833.4 627.5,836.4 635.5,834.1 643.5,846.3 651.5,842.6 659.5,847 667.5,850.7 675.5,849.5 683.5,848.8 691.5,840.8 699.5,837.1 707.5,829.2 715.5,835.9 723.5,842.1 731.5,842.6 739.5,839.1 747.5,852 755.5,861.4 763.5,844.5 771.5,843.3 779.5,844.5 787.5,843.3 795.5,848.3 803.5,849.5 811.5,850.7 819.5,858.7 827.5,856.4 835.5,855.2 843.5,860.7 851.5,860.2 859.5,872.3 867.5,867.6 875.5,866.1 883.5,858.9 891.5,857.4 899.5,868.1 907.5,862.4 915.5,864.4 923.5,865.6 931.5,864.4 939.5,862.4 947.5,850.2 955.5,863.1 963.5,865.6 971.5,864.4 979.5,863.6 987.5,871.3 995.5,874.3 1003.5,873.3 1011.5,873.3 1019.5,875.5 1027.5,868.1 1035.5,862.4 1043.5,866.1 1051.5,848.8 1059.5,853.2 1067.5,850.2 1075.5,852 1083.5,854.5 1091.5,854.5 1099.5,885.5 1107.5,883.5 1115.5,885.5 1123.5,885.5 1131.5,891.2 1139.5,881.8 1147.5,880.5 1155.5,884.2 1163.5,885.5 1171.5,886.7 1179.5,882.2 1187.5,885.5 1195.5,893.4 1203.5,891.7 1211.5,891.2 1219.5,883.5 1227.5,886.2 1235.5,871.1 1243.5,869.3 1251.5,860.7 1259.5,856.9 1267.5,866.9 1275.5,869.3 1283.5,873.6 1291.5,899.1 1299.5,895.4 1307.5,894.2 1315.5,895.4 1323.5,892.9 1331.5,900.4 1339.5,886 1347.5,887.2 1355.5,884.2 1363.5,886.2 1371.5,885.5 1379.5,874.3 1387.5,862.6 1395.5,864.4 1403.5,862.4 1411.5,864.4 1419.5,861.9 1427.5,860.2 1435.5,866.4 1443.5,863.9 1451.5,863.9" fill="none" stroke="#1e90ff" stroke-width="1" shape-rendering="crispEdges"/>
<line x1="1365.4" y1="757.3" x2="1457.1" y2="678.4" stroke="#ff0000" stroke-width="3" stroke-linecap="round"/>
<polygon points="1465.4,671.2 1460.3,682.2 1453.8,674.6" fill="#ff0000"/>
<line x1="1389" y1="861.2" x2="1445" y2="862.9" stroke="#ff0000" stroke-width="4" stroke-linecap="round"/>
<polygon points="1455,863.2 1444.9,867.9 1445.2,857.9" fill="#ff0000"/>
<g fill="#000" shape-rendering="crispEdges">
<rect x="0" y="32" width="1647" height="1"/>
<rect x="1646" y="32" width="1" height="536"/>
<rect x="0" y="567" width="1647" height="1"/>
<rect x="0" y="569" width="1647" height="1"/>
<rect x="1646" y="569" width="1" height="220"/>
<rect x="0" y="788" width="1647" height="1"/>
<rect x="0" y="790" width="1647" height="1"/>
<rect x="1646" y="790" width="1" height="144"/>
<rect x="0" y="933" width="1647" height="1"/>
<rect x="1647" y="36" width="3" height="1"/>
<rect x="1647" y="69" width="3" height="1"/>
<rect x="1647" y="102" width="3" height="1"/>
<rect x="1647" y="135" width="3" height="1"/>
<rect x="1647" y="168" width="3" height="1"/>
<rect x="1647" y="201" width="3" height="1"/>
<rect x="1647" y="234" width="3" height="1"/>
<rect x="1647" y="267" width="3" height="1"/>
<rect x="1647" y="300" width="3" height="1"/>
<rect x="1647" y="333" width="3" height="1"/>
<rect x="1647" y="366" width="3" height="1"/>
<rect x="1647" y="399" width="3" height="1"/>
<rect x="1647" y="432" width="3" height="1"/>
<rect x="1647" y="465" width="3" height="1"/>
<rect x="1647" y="498" width="3" height="1"/>
<rect x="1647" y="531" width="3" height="1"/>
<rect x="1647" y="564" width="3" height="1"/>
<rect x="1647" y="571" width="2" height="1"/>
<rect x="1647" y="650" width="2" height="1"/>
<rect x="1647" y="786" width="2" height="1"/>
<rect x="1647" y="792" width="2" height="1"/>
<rect x="1647" y="820" width="2" height="1"/>
<rect x="1647" y="862" width="2" height="1"/>
<rect x="1647" y="911" width="2" height="1"/>
<rect x="1647" y="926" width="2" height="1"/>
<rect x="51" y="934" width="1" height="4"/>
<rect x="115" y="934" width="1" height="4"/>
<rect x="179" y="934" width="1" height="4"/>
<rect x="243" y="934" width="1" height="4"/>
<rect x="307" y="934" width="1" height="4"/>
<rect x="371" y="934" width="1" height="4"/>
<rect x="435" y="934" width="1" height="4"/>
<rect x="499" y="934" width="1" height="4"/>
<rect x="563" y="934" width="1" height="4"/>
<rect x="627" y="934" width="1" height="4"/>
<rect x="691" y="934" width="1" height="4"/>
<rect x="755" y="934" width="1" height="4"/>
<rect x="819" y="934" width="1" height="4"/>
<rect x="883" y="934" width="1" height="4"/>
<rect x="947" y="934" width="1" height="4"/>
<rect x="1011" y="934" width="1" height="4"/>
<rect x="1075" y="934" width="1" height="4"/>
<rect x="1139" y="934" width="1" height="4"/>
<rect x="1203" y="934" width="1" height="4"/>
<rect x="1267" y="934" width="1" height="4"/>
<rect x="1331" y="934" width="1" height="4"/>
<rect x="1395" y="934" width="1" height="4"/>
</g>
<g font-size="9" fill="#000">
<text x="1652" y="39.8">1.38525</text>
<text x="1652" y="72.8">1.38245</text>
<text x="1652" y="105.9">1.37965</text>
<text x="1652" y="138.9">1.37680</text>
<text x="1652" y="171.9">1.37400</text>
<text x="1652" y="205">1.37120</text>
<text x="1652" y="238">1.36835</text>
<text x="1652" y="271">1.36555</text>
<text x="1652" y="304">1.36275</text>
<text x="1652" y="337.1">1.35990</text>
<text x="1652" y="370.1">1.35710</text>
<text x="1652" y="403.1">1.35430</text>
<text x="1652" y="436.2">1.35145</text>
<text x="1652" y="469.2">1.34865</text>
<text x="1652" y="502.2">1.34585</text>
<text x="1652" y="535.2">1.34300</text>
<text x="1652" y="568.3">1.34020</text>
<text x="1650" y="580">0.004177</text>
<text x="1652" y="654">0.00</text>
<text x="1650" y="785">-0.007153</text>
<text x="1650" y="801">100</text>
<text x="1649" y="824">80</text>
<text x="1649" y="866">50</text>
<text x="1649" y="915">15</text>
<text x="1649" y="930">0</text>
<text x="-14" y="945.7" font-size="9.4">28 Sep 2021</text>
<text x="50" y="945.7" font-size="9.4">29 Sep 16:00</text>
<text x="114" y="945.7" font-size="9.4">1 Oct 00:00</text>
<text x="178" y="945.7" font-size="9.4">4 Oct 08:00</text>
<text x="242" y="945.7" font-size="9.4">5 Oct 16:00</text>
<text x="306" y="945.7" font-size="9.4">7 Oct 00:00</text>
<text x="370" y="945.7" font-size="9.4">8 Oct 08:00</text>
<text x="434" y="945.7" font-size="9.4">11 Oct 16:00</text>
<text x="498" y="945.7" font-size="9.4">13 Oct 00:00</text>
<text x="562" y="945.7" font-size="9.4">14 Oct 08:00</text>
<text x="626" y="945.7" font-size="9.4">15 Oct 16:00</text>
<text x="690" y="945.7" font-size="9.4">19 Oct 00:00</text>
<text x="754" y="945.7" font-size="9.4">20 Oct 08:00</text>
<text x="818" y="945.7" font-size="9.4">21 Oct 16:00</text>
<text x="882" y="945.7" font-size="9.4">25 Oct 00:00</text>
<text x="946" y="945.7" font-size="9.4">26 Oct 08:00</text>
<text x="1010" y="945.7" font-size="9.4">27 Oct 16:00</text>
<text x="1074" y="945.7" font-size="9.4">29 Oct 00:00</text>
<text x="1138" y="945.7" font-size="9.4">1 Nov 08:00</text>
<text x="1202" y="945.7" font-size="9.4">2 Nov 16:00</text>
<text x="1266" y="945.7" font-size="9.4">4 Nov 00:00</text>
<text x="1330" y="945.7" font-size="9.4">5 Nov 08:00</text>
<text x="1394" y="945.7" font-size="9.4">8 Nov 16:00</text>
<text x="-10.5" y="582" font-size="9.45">MACD(12,26,9) -0.001172 -0.002408</text>
<text x="-8.5" y="803" font-size="9.2">RSI(14) 49.0861</text>
<text x="2" y="43.7" font-size="9.3">GBPUSD-,H4  1.35606 1.35670 1.35569 1.35581</text>
</g>
<rect x="1648" y="322" width="41" height="11" fill="#ff4500" shape-rendering="crispEdges"/>
<text x="1652" y="330.6" font-size="9" fill="#fff">1.36036</text>
<rect x="1648" y="348" width="41" height="11" fill="#ff0000" shape-rendering="crispEdges"/>
<text x="1652" y="356.6" font-size="9" fill="#fff">1.35815</text>
<rect x="1648" y="376" width="41" height="11" fill="#000" shape-rendering="crispEdges"/>
<text x="1652" y="384.6" font-size="9" fill="#fff">1.35581</text>
<rect x="1648" y="391" width="41" height="11" fill="#32cd32" shape-rendering="crispEdges"/>
<text x="1652" y="399.6" font-size="9" fill="#fff">1.35448</text>
<rect x="1648" y="413" width="41" height="11" fill="#0000ff" shape-rendering="crispEdges"/>
<text x="1652" y="421.6" font-size="9" fill="#fff">1.35261</text>
<rect x="1648" y="438" width="41" height="11" fill="#0000ff" shape-rendering="crispEdges"/>
<text x="1652" y="446.6" font-size="9" fill="#fff">1.35048</text>
</svg>
<div id="rb"></div>
<div id="panel">
 <div class="bg1" style="left:0;top:0;width:42px;height:24px;"></div>
 <div class="bg1" style="left:157px;top:0;width:52px;height:24px;"></div>
 <div class="bg2" style="left:0;top:24px;width:99px;height:33px;"></div>
 <div class="bg2" style="left:101px;top:24px;width:108px;height:33px;"></div>
 <div style="left:0;top:23px;width:38px;height:1px;background:#8a8af8;"></div>
 <div style="left:161px;top:23px;width:44px;height:1px;background:#8a8af8;"></div>
 <div style="left:2px;top:5px;font-size:11.6px;line-height:14px;transform:scaleX(.88);transform-origin:0 0;">SELL</div>
 <div style="left:170px;top:5px;font-size:11.6px;line-height:14px;transform:scaleX(.93);transform-origin:0 0;">BUY</div>
 <div style="left:44px;top:1px;width:111px;height:21px;background:#fff;border:1px solid #b4b4b4;"></div>
 <div style="left:45px;top:2px;width:20px;height:19px;background:linear-gradient(#f4f4f4,#d8d8d8);border:1px solid #c0c0c0;"></div>
 <div style="left:134px;top:2px;width:20px;height:19px;background:linear-gradient(#f4f4f4,#d8d8d8);border:1px solid #c0c0c0;"></div>
 <div style="left:52px;top:10px;width:0;height:0;border-left:3px solid transparent;border-right:3px solid transparent;border-top:3px solid #5060b0;"></div>
 <div style="left:141px;top:9px;width:0;height:0;border-left:3px solid transparent;border-right:3px solid transparent;border-bottom:3px solid #5060b0;"></div>
 <div style="left:66px;top:4px;width:64px;text-align:right;font-size:12px;line-height:14px;color:#000;">1.00</div>
 <div style="left:11px;top:42px;font-size:11.5px;line-height:12px;font-weight:bold;">1.35</div>
 <div style="left:38px;top:19px;font-size:33px;line-height:40px;letter-spacing:-1.6px;transform:scaleY(1.07);transform-origin:0 50%;">58</div>
 <div style="left:77px;top:26px;font-size:12px;line-height:12px;font-weight:bold;">1</div>
 <div style="left:121px;top:42px;font-size:11.5px;line-height:12px;font-weight:bold;">1.35</div>
 <div style="left:149px;top:19px;font-size:33px;line-height:40px;letter-spacing:-1.6px;transform:scaleY(1.07);transform-origin:0 50%;">60</div>
 <div style="left:188px;top:26px;font-size:12px;line-height:12px;font-weight:bold;">7</div>
</div>

<div id="tb">
 <div class="l0"></div><div class="l1"></div><div class="b1"></div><div class="b2"></div>
 <div class="sep" style="left:7px"></div>
 <div class="tt" style="left:36px">新订单</div>
 <div class="tt" style="left:188px">自动交易</div>
 <div class="sep sepL" style="left:243px"></div><div class="grip" style="left:247px"></div>
 <div class="sel" style="left:281px;width:26px"></div>
 <div class="sep" style="left:338px"></div>
 <div class="sep" style="left:428px"></div>
 <div class="sel" style="left:433px;width:26px"></div>
 <div class="sel" style="left:461px;width:26px"></div>
 <div class="sep" style="left:490px"></div>
 <div class="dd" style="left:522px"></div>
 <div class="dd" style="left:561px"></div>
 <div class="dd" style="left:600px"></div>
 <div class="sep sepL" style="left:611px"></div><div class="grip" style="left:615px"></div>
 <div class="sel" style="left:621px;width:26px"></div>
 <div class="sep" style="left:678px"></div>
 <div class="dd" style="left:905px"></div>
 <div class="sep sepL" style="left:917px"></div><div class="grip" style="left:921px"></div>
 <div class="sel" style="left:1067px;width:26px"></div>
 <div class="tf" style="left:932px">M1</div>
 <div class="tf" style="left:960px">M5</div>
 <div class="tf" style="left:986px">M15</div>
 <div class="tf" style="left:1014px">M30</div>
 <div class="tf" style="left:1045px">H1</div>
 <div class="tf" style="left:1072px">H4</div>
 <div class="tf" style="left:1101px">D1</div>
 <div class="tf" style="left:1129px">W1</div>
 <div class="tf" style="left:1155px">MN</div>
 <div class="sep sepL" style="left:1178px"></div>
 <svg id="ico" width="1693" height="30" viewBox="0 0 1693 30" style="position:absolute;left:0;top:0">
 <defs>
 <linearGradient id="gpl" x1="0" y1="0" x2="1" y2="1"><stop offset="0" stop-color="#7dff8a"/><stop offset="1" stop-color="#00b814"/></linearGradient>
 <linearGradient id="ggold" x1="0" y1="0" x2="1" y2="1"><stop offset="0" stop-color="#f7d96a"/><stop offset=".5" stop-color="#e6b01c"/><stop offset="1" stop-color="#b07a10"/></linearGradient>
 <linearGradient id="gblue" x1="0" y1="0" x2="0" y2="1"><stop offset="0" stop-color="#3aa0ff"/><stop offset="1" stop-color="#0b4fc0"/></linearGradient>
 <linearGradient id="gred" x1="0" y1="0" x2="0" y2="1"><stop offset="0" stop-color="#ea5234"/><stop offset="1" stop-color="#d42410"/></linearGradient>
 <radialGradient id="glens" cx=".4" cy=".35" r=".7"><stop offset="0" stop-color="#ffffff"/><stop offset="1" stop-color="#bfe0fb"/></radialGradient>
 <linearGradient id="gclk" x1="0" y1="0" x2="0" y2="1"><stop offset="0" stop-color="#2a8cf0"/><stop offset="1" stop-color="#0a3a98"/></linearGradient>
 <g id="axes" fill="none" stroke="#606060" stroke-width="1.3"><path d="M3.4 8.6V21.8M1.3 19.5H14"/><path d="M2.2 10.2L3.4 8.7L4.6 10.2M12.5 18.3L13.9 19.5L12.5 20.7" stroke-width="1"/></g>
 <g id="plus"><path d="M4 0H8.3V4.2H12.3V8H8.3V12H4V8H0V4.2H4Z" fill="url(#gpl)" stroke="#0a8a14" stroke-width=".9"/></g>
 <g id="mag"><path d="M4.2 4L9.6 9" stroke="#a07810" stroke-width="3.2" stroke-linecap="round"/><path d="M4.2 4L9.4 8.8" stroke="#f0d050" stroke-width="1.6" stroke-linecap="round"/><circle cx="0" cy="0" r="5.4" fill="url(#glens)" stroke="#3f83d4" stroke-width="1.4"/></g>
</defs>
<!-- new order -->
<g>
 <path d="M18.5 8.7H25.3L28.6 12V21.3H18.5Z" fill="#fff" stroke="#6e6e6e" stroke-width="1.1" stroke-linejoin="round"/>
 <path d="M25.3 8.7V12H28.6" fill="#e8e8e8" stroke="#6e6e6e" stroke-width=".9"/>
 <path d="M19.6 11h2.4M19.6 14.4h5M19.6 16.4h4.4M19.6 18.4h2" stroke="#8a8a8a" stroke-width="1"/>
 <use href="#plus" x="21" y="13.9"/>
</g>
<!-- gold book -->
<g>
 <path d="M88.6 8.8L99.6 15.8L98.9 17.9L91.8 24L84 18.2L84.6 16.2Z" fill="#9c6c10"/>
 <path d="M88.6 8.8L99.4 15.8L91.6 22.2L84.4 16.4Z" fill="url(#ggold)" stroke="#a87812" stroke-width=".8" stroke-linejoin="round"/>
 <path d="M84.6 17.4L91.7 23L99 17" fill="none" stroke="#f2d67a" stroke-width=".8"/>
</g>
<!-- cloud server -->
<g>
 <path d="M114.5 9.2L120 8L125.6 9.4V17.5H114.5Z" fill="url(#gblue)" stroke="#1a6fdc" stroke-width=".6"/>
 <path d="M118 9.6V17" stroke="#8cc8ff" stroke-width=".8"/>
 <path d="M120 12h4M120 14h4" stroke="#cfe8ff" stroke-width="1"/>
 <path d="M114.8 23.3a2.5 2.5 0 0 1 -.3 -5a3.3 3.3 0 0 1 6 -1.4a3.1 3.1 0 0 1 4.9 1.9a2.3 2.3 0 0 1 -.2 4.5Z" fill="#eef2fb" stroke="#4565b5" stroke-width="1"/>
</g>
<!-- signal -->
<g fill="none">
 <circle cx="148.2" cy="15.9" r="7.4" stroke="#b4caf2" stroke-width="1.2"/>
 <circle cx="148.2" cy="15.9" r="5" stroke="#8fb0ee" stroke-width="1.2"/>
 <circle cx="148.2" cy="15.9" r="2.7" stroke="#5a86e4" stroke-width="1.1"/>
 <path d="M148.2 15.9L148.2 23.6A7.7 7.7 0 0 0 155.9 15.4Z" fill="#86c890" opacity=".8"/>
 <path d="M148.4 15.9V23.4" stroke="#16a020" stroke-width="1.6"/>
 <circle cx="148.2" cy="15.4" r="1.4" fill="#2456d6"/>
</g>
<!-- autotrading -->
<g>
 <path d="M168.6 15.2L182.2 15.2L176.6 23.6L174.6 23.6Z" fill="#f5cf2e" stroke="#c89a12" stroke-width=".8" stroke-linejoin="round"/>
 <ellipse cx="175.2" cy="13.4" rx="7.8" ry="2.7" fill="#4ea3d8" stroke="#2a78b4" stroke-width=".8"/>
 <path d="M170.8 12.6C171 9 173 8 175.2 8S179.4 9 179.6 12.6Z" fill="#6cbbe8" stroke="#2a78b4" stroke-width=".8"/>
 <circle cx="179.6" cy="19.6" r="4.1" fill="#e02818" stroke="#b81808" stroke-width=".6"/>
 <rect x="178" y="18" width="3.2" height="3.2" fill="#fff"/>
</g>
<!-- chart type icons -->
<use href="#axes" x="258" y="1.9"/>
<path d="M267.6 11.2V19.6M267.6 12.4H270M265.2 18.4H267.6" fill="none" stroke="#0a8c14" stroke-width="1.5"/>
<use href="#axes" x="286" y="1.9"/>
<path d="M295.5 8.2V19.8" stroke="#0a9a14" stroke-width="1.3"/>
<rect x="293.3" y="10.4" width="4.4" height="7.4" fill="url(#gpl)" stroke="#0a9a14" stroke-width="1"/>
<use href="#axes" x="314" y="1.9"/>
<path d="M316.2 18.6C319 16.8 320 13.6 322 13.2S325.4 16.4 327.8 17.2" fill="none" stroke="#239a33" stroke-width="1.4"/>
<!-- zoom in / out -->
<use href="#mag" x="352.9" y="13.9"/>
<path d="M349.9 13.9H355.9M352.9 10.9V16.9" stroke="#3c8ab8" stroke-width="1.7"/>
<use href="#mag" x="381" y="13.9"/>
<path d="M378 13.9H384" stroke="#3c8ab8" stroke-width="1.7"/>
<!-- grid -->
<g>
 <rect x="402.8" y="8" width="8" height="7.8" rx=".8" fill="#3fa01c"/><rect x="411" y="8" width="8" height="7.8" rx=".8" fill="#2454d2"/>
 <rect x="402.8" y="16" width="8" height="7.8" rx=".8" fill="#2454d2"/><rect x="411" y="16" width="8" height="7.8" rx=".8" fill="#3fa01c"/>
 <g fill="#fff"><rect x="404" y="11" width="5.6" height="3.8"/><rect x="412.2" y="11" width="5.6" height="3.8"/><rect x="404" y="19" width="5.6" height="3.8"/><rect x="412.2" y="19" width="5.6" height="3.8"/></g>
 <path d="M405 12.5h3.6M413.2 20.5h3.6" stroke="#a8d890" stroke-width="1"/><path d="M413.2 12.5h3.6M405 20.5h3.6" stroke="#9cb4ee" stroke-width="1"/>
</g>
<!-- autoscroll / shift -->
<use href="#axes" x="438" y="1.9"/>
<path d="M446.3 12.3L449.9 15.6L446.3 18.9Z" fill="#7de886" stroke="#129a1e" stroke-width="1"/>
<use href="#axes" x="466" y="1.9"/>
<path d="M475.4 10V20" stroke="#1e78b4" stroke-width="1.4"/>
<path d="M476.6 15.6H481M479 13.6L476.6 15.6L479 17.6" fill="none" stroke="#e04808" stroke-width="1.3"/>
<!-- doc plus -->
<g>
 <path d="M500.6 8.6H508.8L511.8 11.6V21.2H500.6Z" fill="#fff" stroke="#787878" stroke-width="1.1" stroke-linejoin="round"/>
 <path d="M508.8 8.6V11.6H511.8" fill="#e8e8e8" stroke="#787878" stroke-width=".9"/>
 <path d="M504.4 12.2C503 12.2 503.4 15 502.4 15.4C503.4 15.8 503 18.6 504.4 18.6" fill="none" stroke="#6a5a48" stroke-width="1"/>
 <use href="#plus" x="504" y="13.6"/>
</g>
<!-- clock -->
<g>
 <circle cx="545.9" cy="15.9" r="7.6" fill="url(#gclk)"/>
 <circle cx="545.9" cy="15.7" r="5.3" fill="#fff"/>
 <path d="M545.8 12.4V15.8H548.6" fill="none" stroke="#202020" stroke-width="1.2"/>
 <path d="M545.9 19.2v1M542 15.8h.8M549.2 15.8h.8" stroke="#90a8c8" stroke-width=".8"/>
</g>
<!-- templates -->
<g>
 <rect x="577.4" y="9.2" width="15" height="13.4" rx="1" fill="#fff" stroke="#3c7cd0" stroke-width="1.2"/>
 <rect x="577.4" y="9.2" width="15" height="2.4" fill="#4c8cdc"/>
 <path d="M578 16.4H592" stroke="#3c7cd0" stroke-width="1.1"/>
 <path d="M579.2 14.6h1.8l1.8-1.4h1.8l1.4 1h1.8l1.4-1.2h1" fill="none" stroke="#a83010" stroke-width="1.3"/>
 <path d="M580 20.4h1.4l1.6-1.4h1.6l1.8-1.6h1.2l2 2.6" fill="none" stroke="#168a22" stroke-width="1.3"/>
</g>
<!-- cursor -->
<path d="M628.9 9.2V19.8L631.4 17.6L633.8 22.8L635.8 21.8L633.6 16.9L636.9 16.4Z" fill="#505050"/>
<!-- crosshair -->
<path d="M653.9 16.2H660M663 16.2H669.1M661.5 8.9V14.8M661.5 17.6V23.8" stroke="#3c3c3c" stroke-width="1.3"/>
<rect x="661" y="15.8" width="1" height="1" fill="#806040"/>
<!-- lines -->
<path d="M695.4 9.9V22.8M718 16.3H730M746 22.8L757.9 10.9" stroke="#404040" stroke-width="1.3"/>
<!-- channel -->
<g stroke="#484848" fill="none">
 <path d="M772 17.5L780.2 10.2M777 22.8L786 14.2" stroke-width="1.2"/>
 <path d="M774 21.2L776.4 13.4M777 19.4L779.2 11.4M780.2 17.6L782.4 9.6M783.2 14.6L784.2 8.4" stroke-width="1"/>
 <path d="M773 17L778 21.4M776 14.4L781 18.6M779 11.6L784 16" stroke-width=".8"/>
</g>
<text x="782.8" y="24.8" font-size="6.6" font-weight="bold" fill="#303030" font-family="Liberation Sans,sans-serif">E</text>
<!-- fibo -->
<path d="M801 9.4H814M801 12.4H814M801 16.3H814M801 20.5H810" stroke="#404040" stroke-width="1.1" stroke-dasharray="1 1"/>
<text x="810.8" y="24.8" font-size="6.6" font-weight="bold" fill="#303030" font-family="Liberation Sans,sans-serif">F</text>
<!-- A, T -->
<text x="831.4" y="21.2" font-size="12.6" stroke="#484848" stroke-width=".5" fill="#484848" font-family="Liberation Sans,sans-serif">A</text>
<rect x="858.6" y="10.6" width="11" height="11.8" fill="none" stroke="#404040" stroke-width="1.1" stroke-dasharray="1 1"/>
<text x="860.1" y="20.8" font-size="11" font-weight="bold" fill="#484848" font-family="Liberation Sans,sans-serif">T</text>
<!-- arrows -->
<path d="M888.6 10L892 13.2L888.6 14.8L885.3 13.2Z" fill="#484848"/>
<path d="M895.7 22.8L892.2 19.6L895.7 18L899.2 19.6Z" fill="#484848"/>
<path d="M887.2 17.4L889.8 19.8L894.3 14.2" fill="none" stroke="#484848" stroke-width="1.5"/>
<!-- search -->
<path d="M1645.6 16.6L1641.4 20.4" stroke="#2a62d0" stroke-width="2.6" stroke-linecap="round"/>
<circle cx="1648.5" cy="13.4" r="4" fill="#f6f8ff" stroke="#2a66d6" stroke-width="1.4"/>
<!-- chat -->
<path d="M1665.2 18.2a5.4 4.4 0 1 1 5.6 4.4l-2.2 2l.2-2.2a5.4 4.4 0 0 1 -3.6 -4.2Z" fill="#e4e6ee" stroke="#b4b4b4" stroke-width=".8"/>
<circle cx="1679.7" cy="13.4" r="8.1" fill="url(#gred)"/>
<text x="1679.4" y="17.9" font-size="12.5" stroke="#fff" stroke-width=".4" fill="#fff" text-anchor="middle" font-family="Liberation Sans,sans-serif">1</text>

 </svg>
</div>

</body></html>
